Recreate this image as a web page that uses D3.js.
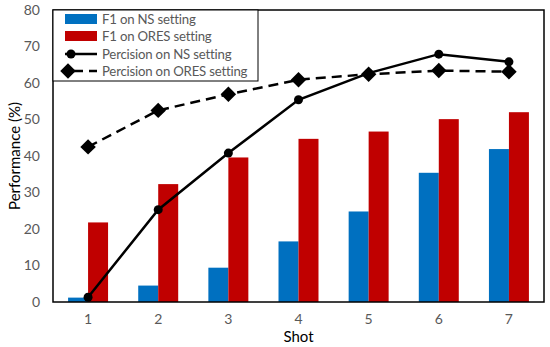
<!DOCTYPE html>
<html lang="en">
<head>
<meta charset="UTF-8">
<title>Performance by shot</title>
<script src="https://d3js.org/d3.v7.min.js"></script>
<style>
  body { margin: 0; background: #fff; }
  text { font-family: Lato, "Open Sans", sans-serif; }
</style>
</head>
<body>
<script>
// data
var shots = ["1", "2", "3", "4", "5", "6", "7"];
var f1NS = [1.2, 4.5, 9.4, 16.6, 24.8, 35.4, 41.9];
var f1ORES = [21.8, 32.3, 39.6, 44.7, 46.7, 50.1, 52.0];
var precNS = [1.3, 25.3, 40.8, 55.4, 62.7, 67.9, 65.8];
var precORES = [42.5, 52.5, 56.9, 60.9, 62.4, 63.4, 63.1];
var yTicks = [0, 10, 20, 30, 40, 50, 60, 70, 80];
var legendLabels = ["F1 on NS setting", "F1 on ORES setting", "Percision on NS setting", "Percision on ORES setting"];

var width = 550, height = 347;
var margin = {top: 10, right: 6, bottom: 45, left: 53};
var pw = width - margin.left - margin.right,
    ph = height - margin.top - margin.bottom;

var svg = d3.select("body").append("svg")
    .attr("width", width)
    .attr("height", height);

var g = svg.append("g")
    .attr("transform", "translate(" + margin.left + "," + margin.top + ")");

var x = d3.scaleBand().domain(shots).range([0, pw]).padding(0);
var y = d3.scaleLinear().domain([0, 80]).range([ph, 0]);
var barW = x.bandwidth() * 0.285;

// bars
g.selectAll(".barNS").data(f1NS).enter().append("rect")
    .attr("x", function(d, i) { return x(shots[i]) + x.bandwidth() / 2 - barW; })
    .attr("y", function(d) { return y(d); })
    .attr("width", barW)
    .attr("height", function(d) { return ph - y(d); })
    .attr("fill", "#0070C0");

g.selectAll(".barORES").data(f1ORES).enter().append("rect")
    .attr("x", function(d, i) { return x(shots[i]) + x.bandwidth() / 2; })
    .attr("y", function(d) { return y(d); })
    .attr("width", barW)
    .attr("height", function(d) { return ph - y(d); })
    .attr("fill", "#C00000");

var cx = function(d, i) { return x(shots[i]) + x.bandwidth() / 2; };
var line = d3.line().x(cx).y(function(d) { return y(d); });

// precision lines
g.append("path").datum(precORES)
    .attr("d", line).attr("fill", "none")
    .attr("stroke", "#000").attr("stroke-width", 2.5)
    .attr("stroke-dasharray", "10,6");

g.append("path").datum(precNS)
    .attr("d", line).attr("fill", "none")
    .attr("stroke", "#000").attr("stroke-width", 2.5);

var diamond = d3.symbol().type(d3.symbolSquare).size(120);
g.selectAll(".dm").data(precORES).enter().append("path")
    .attr("d", diamond)
    .attr("transform", function(d, i) { return "translate(" + cx(d, i) + "," + y(d) + ") rotate(45)"; })
    .attr("fill", "#000");

g.selectAll(".dot").data(precNS).enter().append("circle")
    .attr("cx", cx).attr("cy", function(d) { return y(d); })
    .attr("r", 4.5).attr("fill", "#000");

// axes
var yAxis = g.append("g").call(d3.axisLeft(y).tickValues(yTicks).tickSize(0).tickPadding(13));
yAxis.select(".domain").remove();
yAxis.selectAll("text").attr("fill", "#595959").style("font-size", "14px");

var xAxis = g.append("g").attr("transform", "translate(0," + ph + ")")
    .call(d3.axisBottom(x).tickSize(0).tickPadding(12));
xAxis.select(".domain").remove();
xAxis.selectAll("text").attr("fill", "#595959").style("font-size", "14px");

// plot frame
g.append("rect").attr("width", pw).attr("height", ph)
    .attr("fill", "none").attr("stroke", "#000").attr("stroke-width", 1.5);

// titles
svg.append("text")
    .attr("x", margin.left + pw / 2).attr("y", 342)
    .attr("text-anchor", "middle").style("font-size", "15px").attr("fill", "#000")
    .text("Shot");

svg.append("text")
    .attr("transform", "translate(20," + (margin.top + ph / 2) + ") rotate(-90)")
    .attr("text-anchor", "middle").style("font-size", "15px").attr("fill", "#000")
    .text("Performance (%)");

// legend
var lg = g.append("g");
lg.append("rect").attr("x", 0).attr("y", 0).attr("width", 205).attr("height", 71)
    .attr("fill", "#fff").attr("stroke", "#000").attr("stroke-width", 1);

var rowY = [9, 26, 44, 61];
lg.selectAll(".lt").data(legendLabels).enter().append("text")
    .attr("x", 49).attr("y", function(d, i) { return rowY[i]; })
    .attr("dy", "0.35em").style("font-size", "13.2px").style("letter-spacing", "-0.2px")
    .attr("fill", "#595959")
    .text(function(d) { return d; });

lg.append("rect").attr("x", 12).attr("y", rowY[0] - 5).attr("width", 32).attr("height", 10).attr("fill", "#0070C0");
lg.append("rect").attr("x", 12).attr("y", rowY[1] - 5).attr("width", 32).attr("height", 10).attr("fill", "#C00000");
lg.append("line").attr("x1", 12).attr("x2", 44).attr("y1", rowY[2]).attr("y2", rowY[2])
    .attr("stroke", "#000").attr("stroke-width", 2.5);
lg.append("circle").attr("cx", 18).attr("cy", rowY[2]).attr("r", 4.5).attr("fill", "#000");
lg.append("line").attr("x1", 12).attr("x2", 44).attr("y1", rowY[3]).attr("y2", rowY[3])
    .attr("stroke", "#000").attr("stroke-width", 2.5).attr("stroke-dasharray", "10,6")
    .attr("stroke-dashoffset", -8);
lg.append("path").attr("d", diamond)
    .attr("transform", "translate(15," + rowY[3] + ") rotate(45)").attr("fill", "#000");
</script>
</body>
</html>
